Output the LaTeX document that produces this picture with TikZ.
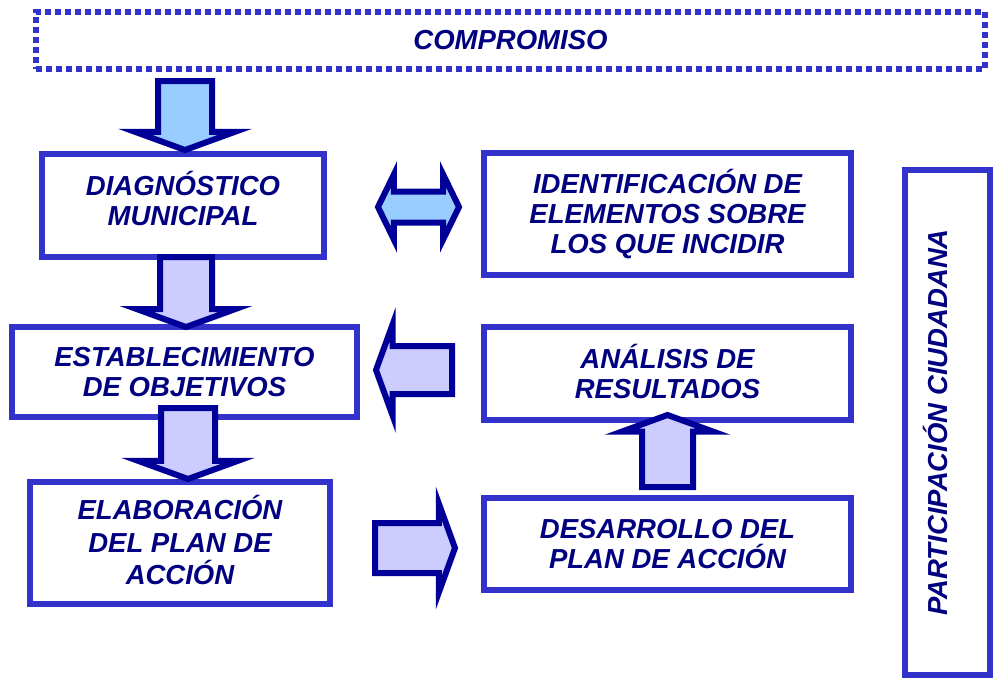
\documentclass[tikz,border=0pt]{standalone}
\usepackage{fontspec}
\setmainfont{Liberation Sans}
\usepackage{tikz}
\usetikzlibrary{shapes.arrows, positioning}

\definecolor{boxblue}{RGB}{51,51,204}
\definecolor{navy}{RGB}{0,0,153}
\definecolor{txtnavy}{RGB}{0,0,128}
\definecolor{skyfill}{RGB}{153,204,255}
\definecolor{lavfill}{RGB}{204,204,255}

\tikzset{
	stepbox/.style={draw=boxblue, line width=5.5pt, outer sep=0pt, fill=white, align=center,
		text=txtnavy, font=\fontsize{27.5}{30}\selectfont\bfseries\itshape},
	lbl/.style={text=txtnavy, font=\fontsize{27.5}{30}\selectfont\bfseries\itshape},
	blockarrow/.style={single arrow, draw=navy, line width=6pt, inner sep=0pt, outer sep=0pt,
		minimum width=0pt, single arrow tip angle=140, single arrow head extend=23pt},
	twoarrow/.style={double arrow, draw=navy, line width=6pt, inner sep=0pt, outer sep=0pt,
		minimum width=0pt, double arrow tip angle=128, double arrow head extend=17pt}
}

\begin{document}
\begin{tikzpicture}[x=1pt, y=-1pt]
					\useasboundingbox (0,0) rectangle (996,680);

					\draw
						(510.5,40.5) node[draw=boxblue, line width=6pt, dash pattern=on 6pt off 4pt,
							minimum width=949pt, minimum height=57pt, outer sep=0pt, lbl] (comp) {COMPROMISO}

						(183,205.5) node[stepbox, minimum width=282pt, minimum height=103pt,
							text depth=14pt] (diag) {DIAGNÓSTICO\\MUNICIPAL}
						(184.5,372) node[stepbox, minimum width=345pt, minimum height=90pt] (estab)
							{ESTABLECIMIENTO\\DE OBJETIVOS}
						(180,543) node[stepbox, minimum width=300pt, minimum height=122pt,
							text depth=6pt, font=\fontsize{27.5}{32.5}\selectfont\bfseries\itshape]
							(elab) {ELABORACIÓN\\DEL PLAN DE\\ACCIÓN}

						(667.5,214) node[stepbox, minimum width=367pt, minimum height=122pt] (ident)
							{IDENTIFICACIÓN DE\\ELEMENTOS SOBRE\\LOS QUE INCIDIR}
						(667.5,373.5) node[stepbox, minimum width=367pt, minimum height=93pt,
							text depth=4pt] (anal) {ANÁLISIS DE\\RESULTADOS}
						(667.5,544) node[stepbox, minimum width=367pt, minimum height=92pt] (desar)
							{DESARROLLO DEL\\PLAN DE ACCIÓN}

						(947.5,422.5) node[stepbox, minimum width=85pt, minimum height=505pt] (partic) {};

					\node[lbl, rotate=90] at ([xshift=-12pt]partic.center) {PARTICIPACIÓN CIUDADANA};

					\node[blockarrow, fill=skyfill, rotate=-90, anchor=tip, inner ysep=24pt,
						minimum height=69pt] (arr1) at ([xshift=2pt, yshift=4pt]diag.north) {};
					\node[blockarrow, fill=lavfill, rotate=-90, anchor=tail, inner ysep=23pt,
						minimum height=70pt] (arr2) at ([xshift=3pt]diag.south) {};
					\node[blockarrow, fill=lavfill, rotate=-90, anchor=tail, inner ysep=24pt,
						minimum height=71pt, single arrow head extend=23pt]
						(arr3) at ([xshift=3.5pt, yshift=9pt]estab.south) {};

					\node[twoarrow, fill=skyfill, inner ysep=12.5pt, minimum height=81pt]
						(arr4) at (418.5,207) {};
					\node[blockarrow, fill=lavfill, rotate=180, anchor=tip, inner ysep=21pt,
						minimum height=76pt, single arrow head extend=22pt]
						(arr5) at ([xshift=19pt, yshift=2pt]estab.east) {};
					\node[blockarrow, fill=lavfill, anchor=tip, inner ysep=22pt,
						minimum height=80pt, single arrow head extend=19pt]
						(arr6) at ([xshift=-29pt, yshift=-4pt]desar.west) {};
					\node[blockarrow, fill=lavfill, rotate=90, anchor=tail, inner ysep=22.5pt,
						minimum height=72pt, single arrow head extend=20pt]
						(arr7) at ([yshift=11pt]desar.north) {};
				\end{tikzpicture}
\end{document}
